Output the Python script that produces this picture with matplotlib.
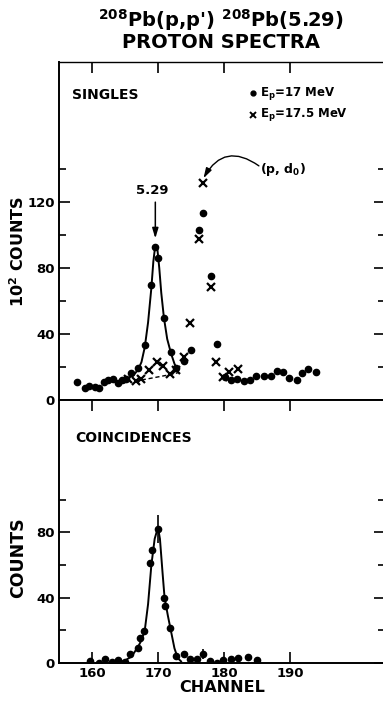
import matplotlib
matplotlib.use("Agg")
import matplotlib.pyplot as plt
from matplotlib.ticker import FixedLocator

plt.rcParams['font.family'] = ['DejaVu Sans']
plt.rcParams['font.weight'] = 'bold'
plt.rcParams['mathtext.default'] = 'regular'

# ---------------- data ----------------
# Upper panel: singles, Ep = 17 MeV (dots), units of 10^2 counts
sing17_ch = [157.8, 158.9, 159.6, 160.4, 161.1, 161.8, 162.5, 163.2, 163.9, 164.5,
             165.2, 165.9, 167.0, 168.0, 169.0, 169.6, 170.0, 170.9, 172.0, 172.8,
             173.9, 175.0, 176.2, 176.9, 178.0, 178.9, 180.2, 181.0, 182.0, 183.0,
             184.0, 184.8, 186.0, 187.1, 188.0, 188.9, 189.9, 191.0, 191.8, 192.8, 194.0]
sing17_val = [11.1, 7.5, 8.5, 8.1, 7.1, 10.7, 12.1, 12.9, 10.1, 12.1,
              12.9, 16.6, 19.6, 33.4, 69.8, 92.8, 86.3, 50.0, 29.3, 19.6,
              23.7, 30.3, 103.0, 113.3, 75.0, 33.8, 14.0, 12.1, 12.5, 11.7,
              12.1, 14.7, 14.7, 14.7, 17.6, 16.8, 13.2, 12.1, 16.2, 18.8, 17.2]
# Singles, Ep = 17.5 MeV (crosses)
sing175_ch = [165.5, 166.7, 167.5, 168.6, 169.8, 170.8, 171.9, 172.8, 173.9, 174.9,
              176.2, 176.9, 178.0, 178.8, 179.8, 180.8, 182.1]
sing175_val = [12.5, 11.7, 12.6, 18.0, 23.2, 20.6, 15.5, 18.2, 26.0, 46.5,
               97.7, 131.5, 68.4, 23.0, 14.1, 17.2, 18.6]
# fitted line through the 5.29 peak (upper)
fit_up_ch = [166.3, 167.0, 167.5, 168.0, 168.5, 169.0, 169.3, 169.6, 169.9, 170.2,
             170.5, 170.9, 171.4, 172.0, 172.5, 173.0]
fit_up_val = [15.0, 18.5, 23.0, 32.0, 47.0, 68.0, 84.0, 94.0, 92.0, 80.0,
              65.0, 50.0, 37.0, 28.0, 22.0, 18.0]
# dashed background line (upper)
bg_ch = [166.5, 168.0, 170.0, 172.0, 173.0]
bg_val = [11.5, 12.5, 14.0, 15.5, 16.5]

# Lower panel: coincidences (counts)
coin_ch = [159.7, 161.0, 162.0, 163.0, 164.0, 165.0, 165.8, 166.9, 167.3, 167.9,
           168.8, 169.1, 170.0, 170.9, 171.1, 171.9, 172.8, 173.9, 174.9, 175.9,
           176.9, 177.9, 178.9, 179.9, 181.0, 182.2, 183.7, 185.0]
coin_val = [1.2, 0.2, 2.3, 0.8, 1.6, 0.8, 5.3, 9.4, 15.0, 19.6,
            61.0, 69.0, 82.0, 40.0, 35.0, 21.7, 4.3, 5.3, 2.3, 2.3,
            5.7, 1.2, 0.2, 1.6, 2.3, 2.9, 3.9, 1.6]
coin_err_ch = [170.0, 176.9]
coin_err_val = [82.0, 5.7]
coin_err = [8.5, 3.0]
fit_lo_ch = [164.0, 165.0, 166.0, 167.0, 167.5, 168.0, 168.5, 169.0, 169.5, 170.0,
             170.3, 170.7, 171.0, 171.5, 172.0, 172.5, 173.0, 173.5]
fit_lo_val = [0.5, 1.5, 4.0, 10.0, 14.0, 20.0, 36.0, 60.0, 76.0, 83.0,
              76.0, 55.0, 40.0, 29.0, 19.0, 9.0, 3.0, 1.0]

x_ticks = [160, 170, 180, 190]
up_yticks = [0, 40, 80, 120]
up_yminor = [20, 60, 100, 140]
lo_yticks = [0, 40, 80]
lo_yminor = [20, 60, 100]

# ---------------- figure ----------------
W, H = 383, 702
fig = plt.figure(figsize=(W / 100, H / 100), dpi=100)
left = 59 / W
right = 1.005
y_top = 1 - 62 / H
y_mid = 1 - 400 / H
y_bot = 1 - 663 / H
ax1 = fig.add_axes([left, y_mid, right - left, y_top - y_mid])
ax2 = fig.add_axes([left, y_bot, right - left, y_mid - y_bot])

xlim = (155.0, 204.4)
for ax in (ax1, ax2):
    ax.set_xlim(*xlim)
    for s in ax.spines.values():
        s.set_linewidth(1.4)
    ax.xaxis.set_major_locator(FixedLocator(x_ticks))
    ax.tick_params(which='both', direction='in', width=1.2, right=True,
                   labelsize=9.5, pad=3)
    ax.tick_params(which='major', length=8)
    ax.tick_params(which='minor', length=5)

ax1.spines['top'].set_linewidth(1.0)
ax1.set_ylim(0, 205)
ax1.yaxis.set_major_locator(FixedLocator(up_yticks))
ax1.yaxis.set_minor_locator(FixedLocator(up_yminor))
ax1.tick_params(axis='x', top=True, bottom=False, labelbottom=False)

ax2.set_ylim(0, 161)
ax2.yaxis.set_major_locator(FixedLocator(lo_yticks))
ax2.yaxis.set_minor_locator(FixedLocator(lo_yminor))
ax2.tick_params(axis='x', top=True, bottom=True)

# upper data
ax1.plot(fit_up_ch, fit_up_val, color='black', lw=1.4, zorder=2)
ax1.plot(bg_ch, bg_val, color='black', lw=1.0, ls=(0, (3, 2)), zorder=2)
ax1.plot(sing17_ch, sing17_val, 'o', color='black', ms=4.5, zorder=3)
ax1.plot(sing175_ch, sing175_val, 'x', color='black', ms=5.5, mew=1.6, zorder=3)

# labels upper
ax1.text(156.9, 185, 'SINGLES', fontsize=10, fontweight='bold', va='center', ha='left')
ax1.plot([184.4], [186], 'o', color='black', ms=3.5)
ax1.text(185.4, 186, 'E$_p$=17 MeV', fontsize=8.5, va='center', ha='left')
ax1.plot([184.4], [173], 'x', color='black', ms=4.5, mew=1.4)
ax1.text(185.4, 173, 'E$_p$=17.5 MeV', fontsize=8.5, va='center', ha='left')

ax1.text(169.1, 127, '5.29', fontsize=9.5, ha='center', va='center')
ax1.annotate('', xy=(169.6, 98), xytext=(169.6, 120),
             arrowprops=dict(arrowstyle='-|>,head_length=0.6,head_width=0.18',
                             color='black', lw=1.1, shrinkA=0, shrinkB=0))
ax1.text(185.5, 140, '(p, d$_0$)', fontsize=9, ha='left', va='center')
ax1.annotate('', xy=(176.9, 134.5), xytext=(185.3, 142),
             arrowprops=dict(arrowstyle='-|>,head_length=0.6,head_width=0.18',
                             connectionstyle='arc3,rad=0.55',
                             color='black', lw=1.0, shrinkA=0, shrinkB=0))

# lower data
ax2.plot(fit_lo_ch, fit_lo_val, color='black', lw=1.4, zorder=2)
ax2.errorbar(coin_err_ch, coin_err_val, yerr=coin_err, fmt='none', ecolor='black',
             elinewidth=1.2, capsize=0, zorder=3)
ax2.plot(coin_ch, coin_val, 'o', color='black', ms=4.5, zorder=3)
ax2.text(157.4, 138, 'COINCIDENCES', fontsize=10, fontweight='bold', va='center', ha='left')

# axis labels
ax1.set_ylabel('10$^2$ COUNTS', fontsize=11.5, fontweight='bold')
ax1.yaxis.set_label_coords(-0.098, 0.44)
ax2.set_ylabel('COUNTS', fontsize=12.5, fontweight='bold')
ax2.yaxis.set_label_coords(-0.098, 0.40)
ax2.set_xlabel('CHANNEL', fontsize=11.5, fontweight='bold', labelpad=0)

fig.text(221 / W, 1 - 20 / H, "$^{208}$Pb(p,p') $^{208}$Pb(5.29)",
         fontsize=14, fontweight='bold', ha='center', va='center')
fig.text(221 / W, 1 - 43 / H, 'PROTON SPECTRA', fontsize=14, fontweight='bold',
         ha='center', va='center')

fig.savefig('out.png', dpi=100)
